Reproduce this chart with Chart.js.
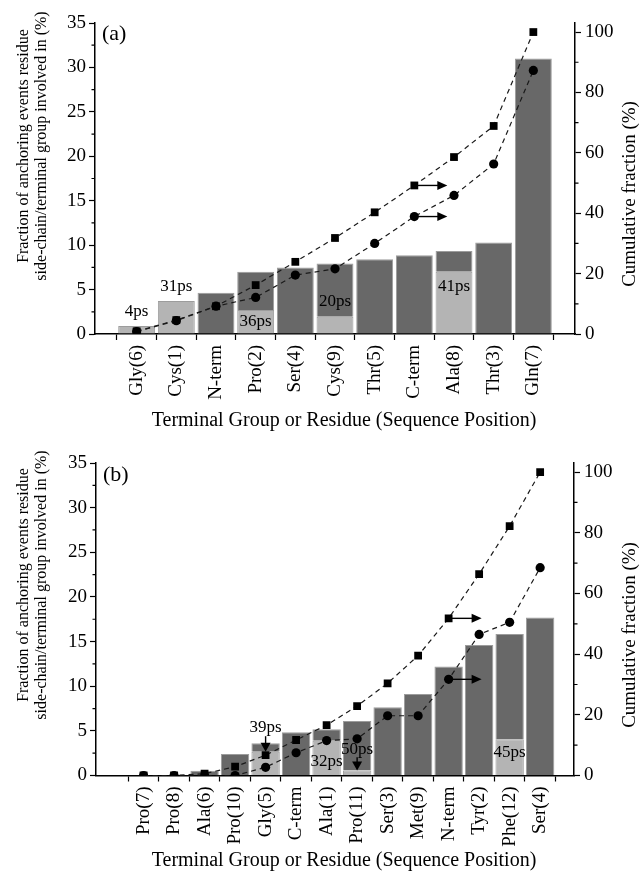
<!DOCTYPE html>
<html>
<head>
<meta charset="utf-8">
<script src="https://cdn.jsdelivr.net/npm/chart.js@4.4.1/dist/chart.umd.min.js"></script>
<style>
  html, body { margin: 0; padding: 0; background: #fff; }
  #wrap { position: relative; width: 639px; height: 875px; }
  canvas { position: absolute; left: 0; }
  #cA { top: 0; }
  #cB { top: 430px; }
</style>
</head>
<body>
<div id="wrap">
  <canvas id="cA" width="639" height="440"></canvas>
  <canvas id="cB" width="639" height="445"></canvas>
</div>
<script>
// ---------- panel (a) ----------
const residuesA = ['Gly(6)', 'Cys(1)', 'N-term', 'Pro(2)', 'Ser(4)', 'Cys(9)', 'Thr(5)', 'C-term', 'Ala(8)', 'Thr(3)', 'Gln(7)'];
const fractionA = [0.9, 3.7, 4.64, 7.0, 7.48, 7.93, 8.42, 8.87, 9.35, 10.29, 31.0];   // full bar height (%)
const shadedA   = [0.9, 3.7, 0, 2.7, 0, 1.95, 0, 0, 7.0, 0, 0];                       // light lower part (%)
const cumSquaresA = [0.9, 4.6, 9.2, 16.2, 23.9, 31.8, 40.3, 49.2, 58.6, 68.9, 100];
const cumCirclesA = [0.8, 4.4, 9.2, 12.1, 19.5, 21.6, 30.0, 38.9, 45.9, 56.3, 87.3];
const timeLabelsA = ['4ps', '31ps', '36ps', '20ps', '41ps'];

// ---------- panel (b) ----------
const residuesB = ['Pro(7)', 'Pro(8)', 'Ala(6)', 'Pro(10)', 'Gly(5)', 'C-term', 'Ala(1)', 'Pro(11)', 'Ser(3)', 'Met(9)', 'N-term', 'Tyr(2)', 'Phe(12)', 'Ser(4)'];
const fractionB = [0, 0, 0.54, 2.41, 3.6, 4.84, 5.18, 6.1, 7.65, 9.14, 12.2, 14.63, 15.86, 17.69];
const shadedB   = [0, 0, 0, 0, 2.67, 0, 3.9, 0.55, 0, 0, 0, 0, 4.06, 0];
const cumSquaresB = [0, 0, 0.6, 2.9, 6.7, 11.7, 16.6, 22.9, 30.4, 39.5, 51.8, 66.4, 82.2, 100];
const cumCirclesB = [0, 0, 0, 0, 2.7, 7.5, 11.5, 12.1, 19.7, 19.7, 31.7, 46.5, 50.5, 68.5];
const timeLabelsB = ['39ps', '32ps', '50ps', '45ps'];

// ---------- shared axis ticks ----------
const leftTicks = [0, 5, 10, 15, 20, 25, 30, 35];
const leftMinor = [2.5, 7.5, 12.5, 17.5, 22.5, 27.5, 32.5];
const rightTicks = [0, 20, 40, 60, 80, 100];
const rightMinor = [10, 30, 50, 70, 90];

const SERIF = "'Liberation Serif', 'Times New Roman', serif";
const DARK = '#686868';
const LIGHT = '#b4b4b4';
const EDGE = '#9c9c9c';

function arrowHead(ctx, x, y, dir, len, half) {
  ctx.beginPath();
  if (dir === 'right') {
    ctx.moveTo(x, y); ctx.lineTo(x - len, y - half); ctx.lineTo(x - len, y + half);
  } else {
    ctx.moveTo(x, y); ctx.lineTo(x - half, y - len); ctx.lineTo(x + half, y - len);
  }
  ctx.closePath();
  ctx.fill();
}

// decorations: axis titles, panel tag, minor ticks, time labels and arrows
function decor(p) {
  return {
    id: 'decor',
    afterDraw(chart) {
      const ctx = chart.ctx;
      const xs = chart.scales.x, ys = chart.scales.y, y1 = chart.scales.y1;
      ctx.save();
      ctx.fillStyle = '#000';
      ctx.strokeStyle = '#000';

      // minor ticks
      ctx.lineWidth = 1.2;
      ctx.beginPath();
      leftMinor.forEach(v => { const y = ys.getPixelForValue(v); ctx.moveTo(xs.left - 3.5, y); ctx.lineTo(xs.left, y); });
      rightMinor.forEach(v => { const y = y1.getPixelForValue(v); ctx.moveTo(xs.right, y); ctx.lineTo(xs.right + 3.5, y); });
      ctx.stroke();

      // time labels
      ctx.font = '17px ' + SERIF;
      ctx.textAlign = 'center';
      ctx.textBaseline = 'middle';
      p.notes.forEach(n => {
        ctx.fillText(n.t, xs.getPixelForValue(n.i) + (n.dx || 0), ys.getPixelForValue(n.v));
      });

      // down arrows
      ctx.lineWidth = 1.4;
      p.downArrows.forEach(a => {
        const x = xs.getPixelForValue(a.i);
        const tip = ys.getPixelForValue(a.to);
        const tail = ys.getPixelForValue(a.from);
        ctx.beginPath(); ctx.moveTo(x, tail); ctx.lineTo(x, tip - 6); ctx.stroke();
        arrowHead(ctx, x, tip, 'down', 9, 5);
      });

      // right-pointing arrows from the cumulative markers
      p.rightArrows.forEach(a => {
        const series = a.s === 'sq' ? p.sq : p.circ;
        const x = xs.getPixelForValue(a.i);
        const y = y1.getPixelForValue(series[a.i]);
        ctx.beginPath(); ctx.moveTo(x, y); ctx.lineTo(x + 26, y); ctx.stroke();
        arrowHead(ctx, x + 33, y, 'right', 10, 4.5);
      });

      // panel tag
      ctx.font = '22px ' + SERIF;
      ctx.textAlign = 'left';
      ctx.fillText(p.tag, xs.left + 7, p.tagY);

      // x title
      ctx.font = '20px ' + SERIF;
      ctx.textAlign = 'center';
      ctx.fillText('Terminal Group or Residue (Sequence Position)', p.xTitleX, p.xTitleY);

      // left title (two lines)
      ctx.save();
      ctx.translate(0, p.leftTitleY);
      ctx.rotate(-Math.PI / 2);
      ctx.font = '16px ' + SERIF;
      ctx.fillText('Fraction of anchoring events residue', 0, p.leftTitleX1);
      ctx.fillText('side-chain/terminal group involved in (%)', 0, p.leftTitleX2);
      ctx.restore();

      // right title
      ctx.save();
      ctx.translate(p.rightTitleX, p.rightTitleY);
      ctx.rotate(-Math.PI / 2);
      ctx.font = '19px ' + SERIF;
      ctx.fillText('Cumulative fraction (%)', 0, 0);
      ctx.restore();

      ctx.restore();
    }
  };
}

function makeChart(id, p) {
  const lower = [], upper = [];
  p.total.forEach((v, i) => {
    if (p.shaded[i] > 0) lower.push({ x: i, y: p.shaded[i] });
    if (v > p.shaded[i]) upper.push({ x: i, y: [p.shaded[i], v] });
  });
  const line = (vals, style, r) => ({
    type: 'line',
    data: vals.map((v, i) => ({ x: i, y: v })),
    yAxisID: 'y1',
    borderColor: '#1a1a1a',
    borderWidth: 1.2,
    borderDash: [5, 4],
    pointStyle: style,
    pointRadius: r,
    pointBackgroundColor: '#000',
    pointBorderColor: '#000',
    pointBorderWidth: 0,
    tension: 0,
    order: 0
  });
  const tickFont = { family: SERIF, size: 19 };
  return new Chart(document.getElementById(id), {
    data: {
      datasets: [
        { type: 'bar', data: lower, backgroundColor: LIGHT, borderColor: EDGE, borderWidth: 1,
          grouped: false, barPercentage: 0.93, categoryPercentage: 1, order: 2 },
        { type: 'bar', data: upper, backgroundColor: DARK, borderColor: EDGE, borderWidth: 1,
          grouped: false, barPercentage: 0.93, categoryPercentage: 1, order: 2 },
        line(p.sq, 'rect', 5.5),
        line(p.circ, 'circle', 4.6)
      ]
    },
    options: {
      responsive: false,
      animation: false,
      events: [],
      layout: { padding: { top: p.top, left: 0, right: 0, bottom: 0 } },
      plugins: { legend: { display: false }, tooltip: { enabled: false } },
      scales: {
        x: {
          type: 'linear', min: p.xMin, max: p.xMax,
          afterBuildTicks: s => { s.ticks = p.labels.map((_, i) => ({ value: i })); },
          afterFit: s => { s.height = p.xAxisH; },
          grid: { drawOnChartArea: false, tickLength: 6, tickWidth: 1.2, tickColor: '#000' },
          border: { color: '#000', width: 1.5 },
          ticks: { autoSkip: false, minRotation: 90, maxRotation: 90, padding: 5, color: '#000',
                   font: tickFont, callback: v => p.labels[v] ?? '' }
        },
        y: {
          position: 'left', min: 0, max: 35,
          afterBuildTicks: s => { s.ticks = leftTicks.map(v => ({ value: v })); },
          afterFit: s => { s.width = p.left; },
          grid: { drawOnChartArea: false, tickLength: 6, tickWidth: 1.2, tickColor: '#000' },
          border: { color: '#000', width: 1.5 },
          ticks: { color: '#000', font: tickFont, padding: 3 }
        },
        y1: {
          position: 'right', min: 0, max: 103,
          afterBuildTicks: s => { s.ticks = rightTicks.map(v => ({ value: v })); },
          afterFit: s => { s.width = 639 - p.right; },
          grid: { drawOnChartArea: false, tickLength: 6, tickWidth: 1.2, tickColor: '#000' },
          border: { color: '#000', width: 1.5 },
          ticks: { color: '#000', font: tickFont, padding: 4 }
        }
      }
    },
    plugins: [decor(p)]
  });
}

makeChart('cA', {
  labels: residuesA, total: fractionA, shaded: shadedA, sq: cumSquaresA, circ: cumCirclesA,
  xMin: -0.5, xMax: 10.5, top: 23, xAxisH: 106, left: 95, right: 575,
  tag: '(a)', tagY: 34,
  xTitleX: 344, xTitleY: 421,
  leftTitleY: 146, leftTitleX1: 24, leftTitleX2: 42,
  rightTitleX: 630, rightTitleY: 194,
  notes: [
    { i: 0, v: 2.5, t: timeLabelsA[0] },
    { i: 1, v: 5.3, t: timeLabelsA[1] },
    { i: 3, v: 1.4, t: timeLabelsA[2] },
    { i: 5, v: 3.65, t: timeLabelsA[3] },
    { i: 8, v: 5.3, t: timeLabelsA[4] }
  ],
  downArrows: [],
  rightArrows: [{ i: 7, s: 'sq' }, { i: 7, s: 'circ' }]
});

makeChart('cB', {
  labels: residuesB, total: fractionB, shaded: shadedB, sq: cumSquaresB, circ: cumCirclesB,
  xMin: -1.0, xMax: 13.55, top: 33, xAxisH: 99.5, left: 96, right: 574,
  tag: '(b)', tagY: 45,
  xTitleX: 344, xTitleY: 431,
  leftTitleY: 155, leftTitleX1: 24, leftTitleX2: 42,
  rightTitleX: 630, rightTitleY: 205,
  notes: [
    { i: 4, v: 5.33, t: timeLabelsB[0] },
    { i: 6, v: 1.55, t: timeLabelsB[1] },
    { i: 7, v: 2.86, t: timeLabelsB[2] },
    { i: 12, v: 2.52, t: timeLabelsB[3] }
  ],
  downArrows: [{ i: 4, from: 4.4, to: 2.67 }, { i: 7, from: 2.05, to: 0.55 }],
  rightArrows: [{ i: 10, s: 'sq' }, { i: 10, s: 'circ' }]
});
</script>
</body>
</html>
